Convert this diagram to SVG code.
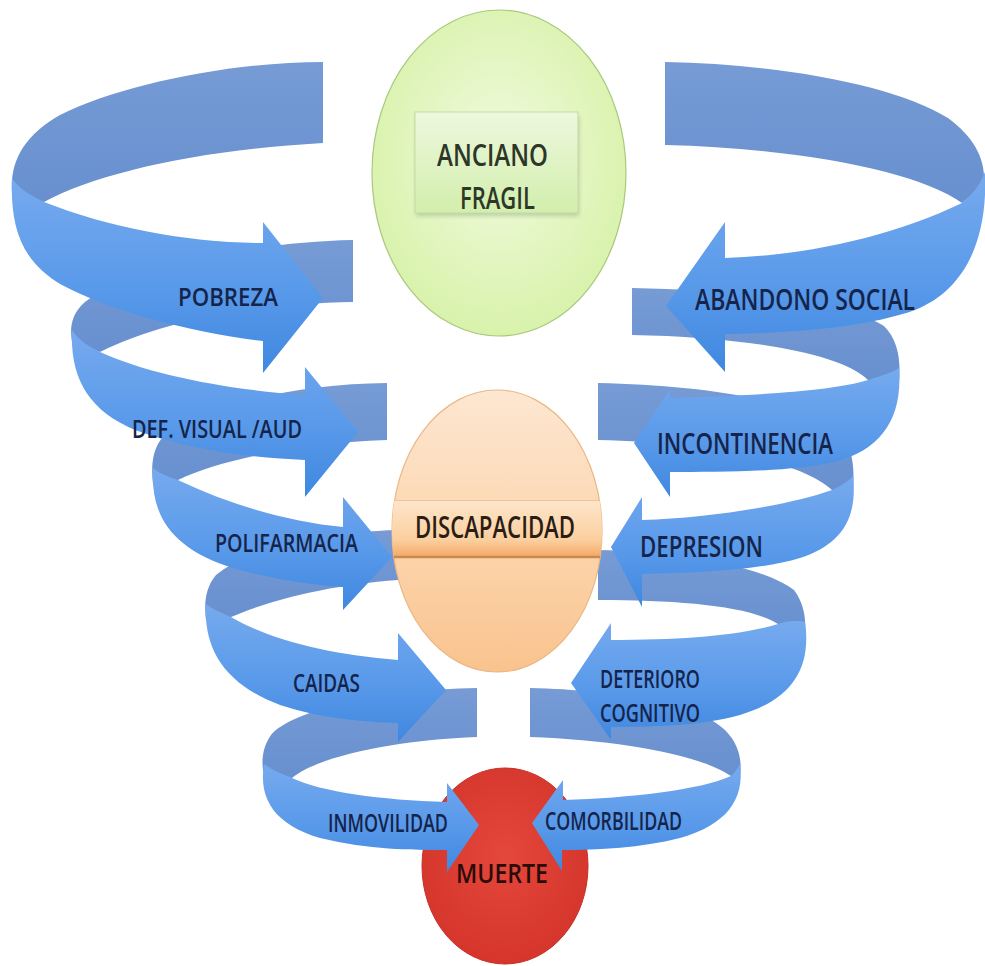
<svg xmlns="http://www.w3.org/2000/svg" width="985" height="966" viewBox="0 0 985 966">
<defs>
  <linearGradient id="gBack" x1="0" y1="0" x2="0" y2="1">
    <stop offset="0" stop-color="#769bd5"/>
    <stop offset="1" stop-color="#6890cf"/>
  </linearGradient>
  <linearGradient id="gFront" x1="0" y1="0" x2="0" y2="1">
    <stop offset="0" stop-color="#76aaee"/>
    <stop offset="0.55" stop-color="#5a9aea"/>
    <stop offset="1" stop-color="#3f88e0"/>
  </linearGradient>
  <radialGradient id="gGreen" cx="0.5" cy="0.45" r="0.6">
    <stop offset="0" stop-color="#f1fbdf"/>
    <stop offset="1" stop-color="#d6f1a6"/>
  </radialGradient>
  <linearGradient id="gBox" x1="0" y1="0" x2="0" y2="1">
    <stop offset="0" stop-color="#edf8de"/>
    <stop offset="1" stop-color="#d2eeac"/>
  </linearGradient>
  <linearGradient id="gOrange" x1="0" y1="0" x2="0" y2="1">
    <stop offset="0" stop-color="#fde7d2"/>
    <stop offset="0.6" stop-color="#fcd3a9"/>
    <stop offset="1" stop-color="#f9c38e"/>
  </linearGradient>
  <linearGradient id="gBand" x1="0" y1="0" x2="0" y2="1">
    <stop offset="0" stop-color="#fee6cb"/>
    <stop offset="0.7" stop-color="#fbcf9f"/>
    <stop offset="1" stop-color="#f3a866"/>
  </linearGradient>
  <radialGradient id="gRed" cx="0.5" cy="0.45" r="0.6">
    <stop offset="0" stop-color="#e4473b"/>
    <stop offset="1" stop-color="#d4342a"/>
  </radialGradient>
  <clipPath id="clipO">
    <ellipse cx="497" cy="531" rx="105" ry="141"/>
  </clipPath>
  <filter id="blur2" x="-10%" y="-10%" width="120%" height="130%">
    <feGaussianBlur stdDeviation="2"/>
  </filter>
</defs>
<style>
  .back{fill:url(#gBack)}
  .front{fill:url(#gFront)}
  .lbl{font-family:"Open Sans","Liberation Sans",sans-serif;font-weight:600;fill:#15244b;}
  .nlbl{font-family:"Open Sans","Liberation Sans",sans-serif;font-weight:600;}
</style>
<rect width="985" height="966" fill="#ffffff"/>

<g id="node-muerte">
  <ellipse cx="505" cy="866" rx="83" ry="98" fill="url(#gRed)" stroke="#c52f26" stroke-width="1"/>
  <text class="nlbl" x="456" y="883" font-size="27" fill="#2a0c0a" textLength="92" lengthAdjust="spacingAndGlyphs">MUERTE</text>
</g>

<g id="connectors">
  <g id="coil-inmovilidad">
    <path class="back" d="M477,688 C380,690 292,710 271,735 C262,748 261,762 264,776 L292,778 C320,755 400,740 477,737 Z"/>
    <path class="front" d="M264,764 C258,800 276,825 320,838 C370,850 410,850 447,850 L447,872 L479,825 L447,783 L447,802 C380,800 322,792 292,778 C280,773 270,769 264,764 Z"/>
    <text class="lbl" x="328" y="832" font-size="25" textLength="120" lengthAdjust="spacingAndGlyphs">INMOVILIDAD</text>
  </g>
  <g id="coil-caidas">
    <path class="back" d="M398,530 C320,532 245,550 216,575 C205,588 204,605 206,620 L231,617 C270,600 330,585 398,580 Z"/>
    <path class="front" d="M206,604 C203,650 226,685 280,705 C320,718 360,722 398,723 L398,742 L446,690 L398,633 L398,660 C330,655 270,640 231,617 C220,612 212,609 206,604 Z"/>
    <text class="lbl" x="293" y="692" font-size="25" textLength="67" lengthAdjust="spacingAndGlyphs">CAIDAS</text>
  </g>
  <g id="coil-polifarmacia">
    <path class="back" d="M387,383 C290,384 195,408 162,438 C152,450 151,468 153,484 L178,480 C220,460 300,443 387,440 Z"/>
    <path class="front" d="M153,468 C150,520 176,550 233,568 C275,580 310,585 343,587 L343,610 L392,557 L343,497 L343,527 C290,522 230,505 178,480 C166,476 159,473 153,468 Z"/>
    <text class="lbl" x="215" y="552" font-size="26" textLength="143" lengthAdjust="spacingAndGlyphs">POLIFARMACIA</text>
  </g>
  <g id="coil-defvisual">
    <path class="back" d="M353,240 C250,242 130,268 85,302 C70,315 70,330 72,342 L100,352 C160,322 250,304 353,302 Z"/>
    <path class="front" d="M72,330 C70,378 88,410 135,430 C190,450 250,458 305,460 L305,497 L358,432 L305,367 L305,395 C230,390 150,375 100,352 C88,346 78,340 72,330 Z"/>
    <text class="lbl" x="132" y="438" font-size="26" textLength="170" lengthAdjust="spacingAndGlyphs">DEF. VISUAL /AUD</text>
  </g>
  <g id="coil-pobreza">
    <path class="back" d="M323,62 C230,62 120,85 60,115 C25,135 10,160 12,192 L44,202 C100,172 200,150 323,143 Z"/>
    <path class="front" d="M12,178 C10,228 22,262 62,285 C115,313 195,333 263,341 L263,373 L323,298 L263,222 L263,243 C190,243 110,228 44,202 C30,195 18,188 12,178 Z"/>
    <text class="lbl" x="178" y="306" font-size="26" textLength="100" lengthAdjust="spacingAndGlyphs">POBREZA</text>
  </g>

  <g id="coil-comorbilidad">
    <path class="back" d="M530,688 C620,690 700,705 725,730 C740,745 742,762 740,776 L731,776 C700,755 620,740 530,737 Z"/>
    <path class="front" d="M740,764 C745,800 726,825 680,838 C640,848 600,850 562,850 L562,871 L532,823 L563,780 L563,800 C630,798 700,790 731,776 C735,772 738,768 740,764 Z"/>
    <text class="lbl" x="545" y="830" font-size="25" textLength="137" lengthAdjust="spacingAndGlyphs">COMORBILIDAD</text>
  </g>
  <g id="coil-deterioro">
    <path class="back" d="M598,550 C680,552 760,565 794,590 C805,605 806,620 805,636 L778,624 C750,606 680,600 598,600 Z"/>
    <path class="front" d="M805,622 C812,670 790,700 740,715 C700,726 650,727 611,727 L611,740 L571,683 L611,623 L611,640 C680,640 740,636 778,624 C790,620 800,621 805,622 Z"/>
    <text class="lbl" x="600" y="688" font-size="25" textLength="100" lengthAdjust="spacingAndGlyphs">DETERIORO</text>
    <text class="lbl" x="600" y="722" font-size="25" textLength="100" lengthAdjust="spacingAndGlyphs">COGNITIVO</text>
  </g>
  <g id="coil-depresion">
    <path class="back" d="M598,383 C700,385 800,400 838,430 C852,445 855,465 853,490 L832,490 C800,460 700,442 598,440 Z"/>
    <path class="front" d="M853,476 C858,520 840,545 800,558 C760,570 700,573 642,574 L642,607 L611,547 L642,497 L642,520 C710,518 790,505 832,490 C840,486 848,482 853,476 Z"/>
    <text class="lbl" x="640" y="557" font-size="29" textLength="123" lengthAdjust="spacingAndGlyphs">DEPRESION</text>
  </g>
  <g id="coil-incontinencia">
    <path class="back" d="M632,288 C740,290 848,302 884,326 C898,340 901,360 899,382 L868,380 C840,352 740,337 632,335 Z"/>
    <path class="front" d="M899,368 C903,420 880,450 835,462 C790,472 720,472 670,472 L670,497 L634,443 L670,390 L670,398 C740,396 830,392 868,380 C880,376 892,373 899,368 Z"/>
    <text class="lbl" x="657" y="454" font-size="28" textLength="176" lengthAdjust="spacingAndGlyphs">INCONTINENCIA</text>
  </g>
  <g id="coil-abandono">
    <path class="back" d="M665,62 C780,64 895,85 948,118 C975,138 986,160 984,185 L962,203 C920,172 800,148 665,145 Z"/>
    <path class="front" d="M985,172 C988,240 965,290 915,310 C865,328 790,333 725,334 L725,372 L666,306 L725,222 L725,258 C800,256 890,238 962,203 C972,195 980,185 985,172 Z"/>
    <text class="lbl" x="695" y="310" font-size="28" textLength="220" lengthAdjust="spacingAndGlyphs">ABANDONO SOCIAL</text>
  </g>
</g>

<g id="node-anciano">
  <ellipse cx="499" cy="173" rx="127" ry="163" fill="url(#gGreen)" stroke="#a8c97c" stroke-width="1.2"/>
  <rect x="416" y="116" width="163" height="100" fill="#9fb487" opacity="0.6" filter="url(#blur2)"/>
  <rect x="415" y="112" width="163" height="101" fill="url(#gBox)" stroke="#c3dba6" stroke-width="1"/>
  <text class="nlbl" x="437" y="166" font-size="30" fill="#2d3628" textLength="111" lengthAdjust="spacingAndGlyphs">ANCIANO</text>
  <text class="nlbl" x="460" y="209" font-size="30" fill="#2d3628" textLength="75" lengthAdjust="spacingAndGlyphs">FRAGIL</text>
</g>

<g id="node-discapacidad">
  <ellipse cx="497" cy="531" rx="105" ry="141" fill="url(#gOrange)" stroke="#ebb784" stroke-width="1.2"/>
  <g clip-path="url(#clipO)">
    <rect x="390" y="500" width="215" height="57" fill="url(#gBand)"/>
    <line x1="390" y1="500.5" x2="605" y2="500.5" stroke="#f0c294" stroke-width="1"/>
    <line x1="390" y1="557" x2="605" y2="557" stroke="#c98a52" stroke-width="2.5"/>
  </g>
  <text class="nlbl" x="415" y="538" font-size="30" fill="#2b1d14" textLength="160" lengthAdjust="spacingAndGlyphs">DISCAPACIDAD</text>
</g>
</svg>
